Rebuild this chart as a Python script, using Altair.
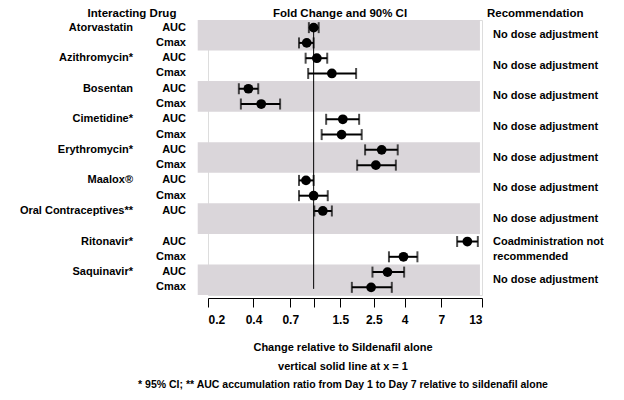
import altair as alt
import pandas as pd

drugs = ["Atorvastatin", "Azithromycin*", "Bosentan", "Cimetidine*", "Erythromycin*",
         "Maalox®", "Oral Contraceptives**", "Ritonavir*", "Saquinavir*"]
recommend = ["No dose adjustment"] * 7 + [["Coadministration not", "recommended"], "No dose adjustment"]

# rows: (drug index, parameter, ratio, lower, upper)
row_drug = [0, 0, 1, 1, 2, 2, 3, 3, 4, 4, 5, 5, 6, 7, 7, 8, 8]
row_param = ["AUC", "Cmax", "AUC", "Cmax", "AUC", "Cmax", "AUC", "Cmax", "AUC", "Cmax",
             "AUC", "Cmax", "AUC", "AUC", "Cmax", "AUC", "Cmax"]
ratio = [1.00, 0.90, 1.05, 1.32, 0.37, 0.45, 1.56, 1.53, 2.82, 2.58,
         0.89, 1.00, 1.15, 10.4, 3.93, 3.08, 2.40]
lower = [0.93, 0.80, 0.885, 0.92, 0.32, 0.33, 1.21, 1.13, 2.19, 1.94,
         0.80, 0.80, 1.01, 8.9, 3.15, 2.45, 1.79]
upper = [1.08, 1.00, 1.23, 1.91, 0.43, 0.60, 2.00, 2.08, 3.60, 3.50,
         1.00, 1.24, 1.32, 12.2, 4.86, 3.97, 3.29]

tick_vals = [0.2, 0.4, 0.7, 1, 1.5, 2.5, 4, 7, 13]

FONT = "Liberation Sans"
W, H = 274, 275
TOP = 12

slot = [2 * d + (0 if p == "AUC" else 1) + 0.5 for d, p in zip(row_drug, row_param)]
df = pd.DataFrame({"slot": slot, "param": row_param, "ratio": ratio,
                   "lower": lower, "upper": upper})

bands = pd.DataFrame({"y0": [2 * g for g in range(0, 9, 2)],
                      "y1": [2 * g + 2 for g in range(0, 9, 2)],
                      "xa": [0.171] * 5, "xb": [12.6] * 5})

drug_df = pd.DataFrame({"drug": drugs, "slot": [2 * i + 0.5 for i in range(9)]})
rec_df = pd.DataFrame({"rec": recommend, "slot": [2 * i + 1 for i in range(9)]})
rec_df.loc[7, "slot"] = 14.5

xs = alt.Scale(type="log", domain=[0.2, 13], nice=False)
ys = alt.Scale(domain=[18, 0], nice=False, zero=False)

band = alt.Chart(bands).mark_rect(color="#dad6da").encode(
    x=alt.X("xa:Q", scale=xs, axis=alt.Axis(values=tick_vals, title=None, grid=False,
            labelExpr="datum.value == 1 ? '' : datum.label", format="~g",
            labelFont=FONT, labelFontSize=12, labelFontWeight="bold", labelColor="black",
            labelPadding=7, tickSize=9, tickColor="black", domainColor="black", offset=3)),
    x2="xb:Q",
    y=alt.Y("y0:Q", scale=ys, axis=None), y2="y1:Q")

vline = alt.Chart(pd.DataFrame({"x": [1], "a": [0.2], "b": [17.6]})).mark_rule(
    color="black", strokeWidth=1).encode(x="x:Q", y=alt.Y("a:Q", scale=ys), y2="b:Q")

err = alt.Chart(df).mark_rule(color="black", strokeWidth=2).encode(
    x=alt.X("lower:Q", scale=xs), x2="upper:Q", y=alt.Y("slot:Q", scale=ys))
capl = alt.Chart(df).mark_tick(orient="vertical", color="black", thickness=2, size=11).encode(
    x=alt.X("lower:Q", scale=xs), y=alt.Y("slot:Q", scale=ys))
capu = alt.Chart(df).mark_tick(orient="vertical", color="black", thickness=2, size=11).encode(
    x=alt.X("upper:Q", scale=xs), y=alt.Y("slot:Q", scale=ys))
pts = alt.Chart(df).mark_point(filled=True, color="black", size=95, opacity=1).encode(
    x=alt.X("ratio:Q", scale=xs), y=alt.Y("slot:Q", scale=ys))

txt = dict(font=FONT, fontWeight="bold", fontSize=11, color="black", baseline="middle")

drug_txt = alt.Chart(drug_df).mark_text(align="right", **txt).encode(
    x=alt.value(-75), y=alt.Y("slot:Q", scale=ys), text="drug:N")
param_txt = alt.Chart(df).mark_text(align="right", **txt).encode(
    x=alt.value(-22), y=alt.Y("slot:Q", scale=ys), text="param:N")
rec_txt = alt.Chart(rec_df).mark_text(align="left", lineHeight=15, **txt).encode(
    x=alt.value(285), y=alt.Y("slot:Q", scale=ys), text="rec")


def label(s, x, y, align="center", size=12, baseline="middle"):
    return alt.Chart(pd.DataFrame({"t": [s]})).mark_text(
        align=align, font=FONT, fontWeight="bold", fontSize=size, color="black",
        baseline=baseline).encode(x=alt.value(x), y=alt.value(y), text="t:N")


headers = (label("Interacting Drug", -76, -TOP, size=11.5, baseline="top")
           + label("Fold Change and 90% CI", 132, -TOP, size=11.5, baseline="top")
           + label("Recommendation", 279, -TOP, align="left", size=11.5, baseline="top")
           + label("Change relative to Sildenafil alone", 135, H + 53, size=11)
           + label("vertical solid line at x = 1", 135, H + 72, size=11)
           + label("* 95% CI;  ** AUC accumulation ratio from Day 1 to Day 7 relative to sildenafil alone",
                   135, H + 90, size=10.5))

chart = alt.layer(band, vline, err, capl, capu, pts, drug_txt, param_txt, rec_txt, headers).properties(
    width=W, height=H,
    autosize=alt.AutoSizeParams(type="none"),
    padding={"left": 200, "top": TOP, "right": 134, "bottom": 384 - TOP - H},
).configure_view(stroke=None).configure(background="white")

chart.save("out.html", embed_options={"renderer": "svg", "actions": False})
